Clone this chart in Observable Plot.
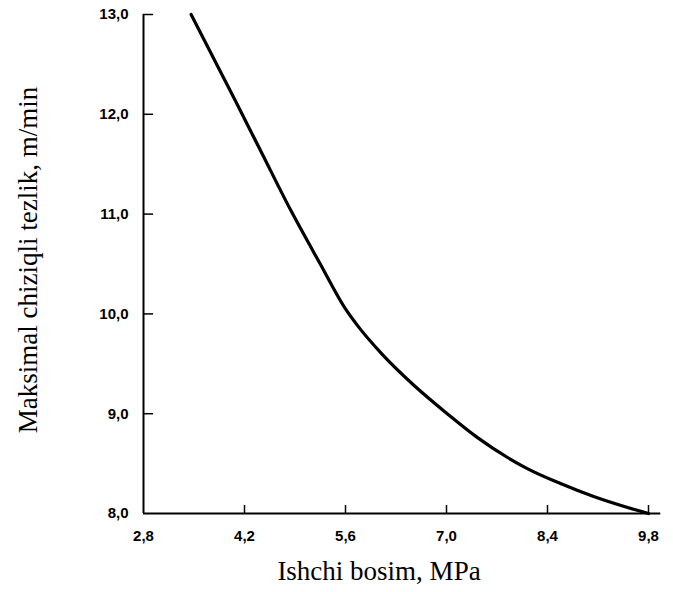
<!DOCTYPE html>
<html>
<head>
<meta charset="utf-8">
<script src="https://cdn.jsdelivr.net/npm/d3@7"></script>
<script src="https://cdn.jsdelivr.net/npm/@observablehq/plot@0.6"></script>
<style>
  html, body { margin: 0; padding: 0; background: white; }
</style>
</head>
<body>
<div id="chart"></div>
<script>
const pressure = [3.46, 4.07, 4.42, 4.84, 5.25, 5.6, 5.77, 6.09, 6.54, 7.01, 7.43, 8.12, 8.58, 9.04, 9.51, 9.8];
const speed    = [13.0, 12.14, 11.64, 11.04, 10.5, 10.05, 9.88, 9.61, 9.29, 9.0, 8.76, 8.45, 8.3, 8.17, 8.06, 8.0];
const xTicks = [2.8, 4.2, 5.6, 7.0, 8.4, 9.8];
const yTicks = [8, 9, 10, 11, 12, 13];
const xTitle = "Ishchi bosim, MPa";
const yTitle = "Maksimal chiziqli tezlik, m/min";

const data = pressure.map((x, i) => ({x, y: speed[i]}));
const fmt = d => d.toFixed(1).replace(".", ",");
const serif = "'Liberation Serif', 'Times New Roman', serif";

const plot = Plot.plot({
  width: 673,
  height: 592,
  marginLeft: 143,
  marginRight: 25,
  marginTop: 14,
  marginBottom: 79,
  x: {domain: [2.8, 9.8]},
  y: {domain: [8, 13]},
  style: {background: "white", fontFamily: "'Liberation Sans', Arial, sans-serif", color: "black"},
  marks: [
    Plot.axisX(xTicks, {tickSize: 0, tickPadding: 17, fontWeight: "bold", fontSize: 15, tickFormat: fmt, label: null}),
    Plot.axisY(yTicks, {tickSize: 0, tickPadding: 15, fontWeight: "bold", fontSize: 15, tickFormat: fmt, label: null}),
    Plot.ruleX([2.8], {y1: 8, y2: 13, stroke: "black", strokeWidth: 2}),
    Plot.ruleY([8], {x1: 2.8, x2: 9.97, stroke: "black", strokeWidth: 2}),
    Plot.ruleX(xTicks.slice(1), {x: d => d, y1: 8, y2: 8.08, stroke: "black", strokeWidth: 1.5}),
    Plot.ruleY(yTicks.slice(1), {y: d => d, x1: 2.8, x2: 2.94, stroke: "black", strokeWidth: 1.5}),
    Plot.line(data, {x: "x", y: "y", curve: "monotone-x", stroke: "black", strokeWidth: 3.2}),
    Plot.text([xTitle], {frameAnchor: "bottom", dx: -17, dy: 66, fontSize: 27, fontFamily: serif, fill: "black"}),
    Plot.text([yTitle], {frameAnchor: "left", textAnchor: "middle", dx: -115, dy: -4, rotate: -90, fontSize: 27, fontFamily: serif, fill: "black"})
  ]
});
document.getElementById("chart").appendChild(plot);
</script>
</body>
</html>
